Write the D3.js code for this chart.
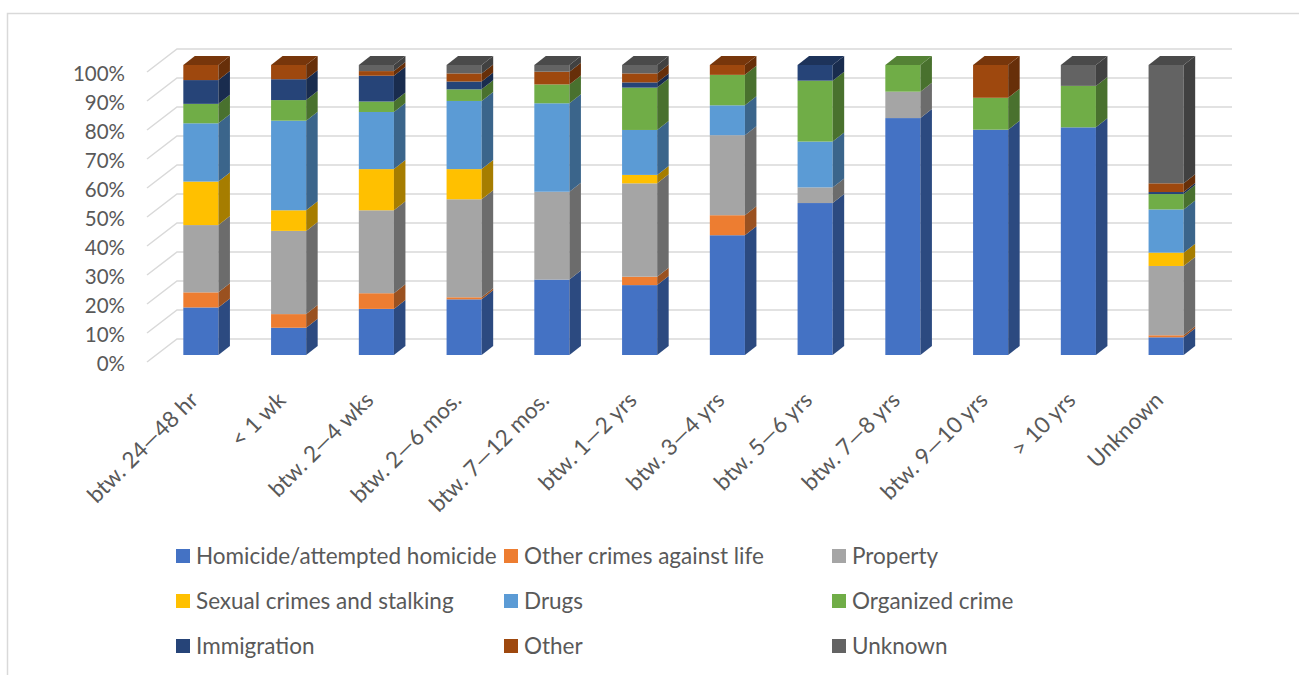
<!DOCTYPE html>
<html>
<head>
<meta charset="utf-8">
<script src="https://cdn.jsdelivr.net/npm/d3@7"></script>
<style>
  body { margin: 0; background: #fff; }
  svg { display: block; font-family: Lato, "Open Sans", sans-serif; }
</style>
</head>
<body>
<svg id="chart" width="1299" height="675"></svg>
<script>
// ** DATA ** //
const categories = [
  "btw. 24\u201448 hr", "< 1 wk", "btw. 2\u20144 wks", "btw. 2\u20146 mos.",
  "btw. 7\u201412 mos.", "btw. 1\u20142 yrs", "btw. 3\u20144 yrs", "btw. 5\u20146 yrs",
  "btw. 7\u20148 yrs", "btw. 9\u201410 yrs", "> 10 yrs", "Unknown"
];
const seriesNames = [
  "Homicide/attempted homicide", "Other crimes against life", "Property",
  "Sexual crimes and stalking", "Drugs", "Organized crime",
  "Immigration", "Other", "Unknown"
];
const homicide    = [16.4,  9.4, 15.9, 19.2, 26.0, 24.1, 41.3, 52.4, 81.7, 77.7, 78.5,  6.1];
const otherLife   = [ 5.2,  4.7,  5.4,  0.7,  0.0,  2.9,  6.9,  0.0,  0.0,  0.0,  0.0,  0.7];
const property    = [23.2, 28.7, 28.6, 33.8, 30.3, 32.2, 27.6,  5.4,  9.1,  0.0,  0.0, 23.9];
const sexual      = [15.0,  7.1, 14.2, 10.4,  0.0,  2.9,  0.0,  0.0,  0.0,  0.0,  0.0,  4.6];
const drugs       = [20.1, 30.9, 19.7, 23.5, 30.5, 15.5, 10.3, 15.8,  0.0,  0.0,  0.0, 14.9];
const organized   = [ 6.7,  7.1,  3.6,  4.0,  6.5, 14.6, 10.5, 21.0,  9.2, 11.0, 14.3,  5.3];
const immigration = [ 8.2,  7.2,  8.9,  2.7,  0.0,  1.8,  0.0,  5.4,  0.0,  0.0,  0.0,  0.7];
const other       = [ 5.2,  4.9,  1.6,  2.8,  4.4,  3.1,  3.4,  0.0,  0.0, 11.3,  0.0,  3.0];
const unknown     = [ 0.0,  0.0,  2.1,  2.9,  2.3,  2.9,  0.0,  0.0,  0.0,  0.0,  7.2, 40.8];
const yTicks = [0, 0.1, 0.2, 0.3, 0.4, 0.5, 0.6, 0.7, 0.8, 0.9, 1];

const colors = ["#4472C4", "#ED7D31", "#A5A5A5", "#FFC000", "#5B9BD5",
                "#70AD47", "#264478", "#9E480E", "#636363"];

const onReady = () => {
  const svg = d3.select("#chart");
  const seriesValues = [homicide, otherLife, property, sexual, drugs,
                        organized, immigration, other, unknown];

  const rows = categories.map((c, i) => {
    const r = { cat: c };
    seriesNames.forEach((s, j) => { r[s] = seriesValues[j][i]; });
    return r;
  });
  const stacked = d3.stack().keys(seriesNames).offset(d3.stackOffsetExpand)(rows);

  // ** SCALES ** //
  const x = d3.scaleBand().domain(categories).range([157, 1210])
    .paddingInner(0.6).paddingOuter(0.3);
  const y = d3.scaleLinear().domain([0, 1]).range([355, 65]);
  const color = d3.scaleOrdinal().domain(seriesNames).range(colors);

  // 3d depth of bars and of the walls
  const dx = 11.5, dy = -9;
  const wallFront = 7, wallBack = -16, wallX0 = 147, wallX1 = 177, wallEnd = 1232;

  // frame
  svg.append("rect")
    .attr("x", 7.5).attr("y", 13.5).attr("width", 1400).attr("height", 700)
    .attr("fill", "#fff").attr("stroke", "#d9d9d9").attr("stroke-width", 1.5);

  // ** GRIDLINES (side wall + back wall) ** //
  const grid = svg.append("g").attr("stroke", "#d9d9d9").attr("stroke-width", 1.5)
    .attr("fill", "none");
  grid.selectAll("path").data(yTicks).join("path")
    .attr("d", d => `M${wallX0},${y(d) + wallFront}L${wallX1},${y(d) + wallBack}L${wallEnd},${y(d) + wallBack}`);

  // ** Y AXIS ** //
  const yLab = d3.scaleLinear().domain([0, 1]).range([355 + 8.5, 65 + 8.5]);
  const yAxis = svg.append("g")
    .attr("transform", "translate(125,0)")
    .call(d3.axisLeft(yLab).tickValues(yTicks).tickFormat(d3.format(".0%"))
      .tickSize(0).tickPadding(0));
  yAxis.select(".domain").remove();
  yAxis.selectAll("text").attr("fill", "#595959").attr("font-size", 20.5)
    .attr("font-family", "Lato, sans-serif");

  // ** BARS ** //
  const bw = x.bandwidth();
  const bars = svg.append("g");
  categories.forEach((c, i) => {
    const g = bars.append("g");
    const x0 = x(c);
    stacked.forEach(layer => {
      const d = layer[i];
      if (d[1] - d[0] <= 0) return;
      const col = color(layer.key);
      const yt = y(d[1]), yb = y(d[0]);
      g.append("rect")
        .attr("x", x0).attr("y", yt).attr("width", bw).attr("height", yb - yt)
        .attr("fill", col);
      g.append("path")
        .attr("d", `M${x0 + bw},${yt}L${x0 + bw + dx},${yt + dy}L${x0 + bw + dx},${yb + dy}L${x0 + bw},${yb}Z`)
        .attr("fill", d3.color(col).darker(1.2));
    });
    // top face takes the colour of the highest non-empty segment
    const topLayer = stacked.filter(l => l[i][1] - l[i][0] > 0).pop();
    const yt = y(1);
    g.append("path")
      .attr("d", `M${x0},${yt}L${x0 + dx},${yt + dy}L${x0 + bw + dx},${yt + dy}L${x0 + bw},${yt}Z`)
      .attr("fill", d3.color(color(topLayer.key)).darker(0.8));
  });

  // ** X AXIS ** //
  const xAxis = svg.append("g")
    .attr("transform", "translate(-7,396)")
    .call(d3.axisBottom(x).tickSize(0).tickPadding(0));
  xAxis.select(".domain").remove();
  xAxis.selectAll("text")
    .attr("fill", "#595959").attr("font-size", 22.5).attr("font-family", "Lato, sans-serif")
    .attr("text-anchor", "end").attr("dy", "0.35em").attr("y", 0)
    .attr("transform", "rotate(-45)");

  // ** LEGEND ** //
  const legend = svg.append("g").attr("font-size", 22.5).attr("fill", "#595959");
  seriesNames.forEach((s, k) => {
    const col = k % 3, row = Math.floor(k / 3);
    const lx = 176 + col * 328, ly = 556 + row * 45;
    legend.append("rect").attr("x", lx).attr("y", ly - 7)
      .attr("width", 14).attr("height", 14).attr("fill", color(s));
    legend.append("text").attr("x", lx + 20).attr("y", ly).attr("dy", "0.35em").text(s);
  });
};
document.addEventListener("DOMContentLoaded", onReady);
</script>
</body>
</html>
